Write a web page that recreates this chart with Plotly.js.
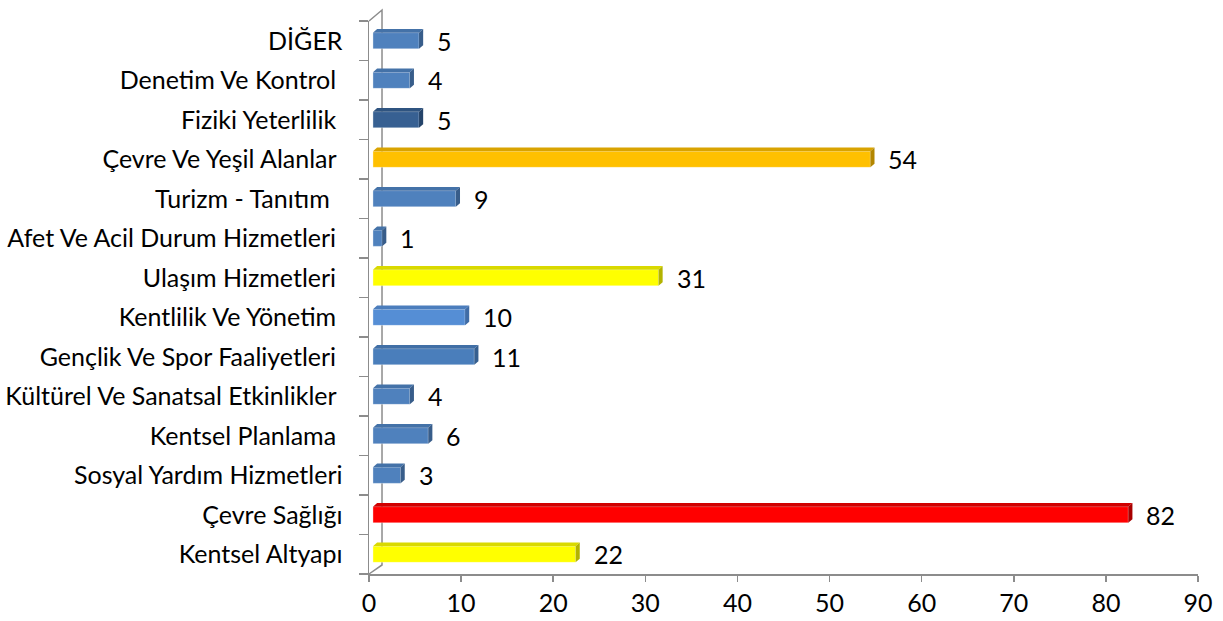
<!DOCTYPE html>
<html>
<head>
<meta charset="utf-8">
<script src="https://cdn.plot.ly/plotly-3.0.1.min.js"></script>
<style>html,body{margin:0;padding:0;background:#fff;}#chart{width:1223px;height:621px;}</style>
</head>
<body>
<div id="chart"></div>
<script>
// Data (bottom to top)
const categories = [
  "Kentsel Altyapı",
  "Çevre Sağlığı",
  "Sosyal Yardım Hizmetleri",
  "Kentsel Planlama ",
  "Kültürel Ve Sanatsal Etkinlikler ",
  "Gençlik Ve Spor Faaliyetleri ",
  "Kentlilik Ve Yönetim ",
  "Ulaşım Hizmetleri ",
  "Afet Ve Acil Durum Hizmetleri ",
  "Turizm - Tanıtım  ",
  "Çevre Ve Yeşil Alanlar ",
  "Fiziki Yeterlilik ",
  "Denetim Ve Kontrol ",
  "DİĞER"
];
const values = [22, 82, 3, 6, 4, 11, 10, 31, 1, 9, 54, 5, 4, 5];
const xTickValues = [0, 10, 20, 30, 40, 50, 60, 70, 80, 90];

// Styles
const frontColors = ["#FFFF00","#FF0000","#4F81BD","#4F81BD","#4F81BD","#4A7EBB","#558ED5","#FFFF00","#4F81BD","#4F81BD","#FFC000","#376092","#4F81BD","#4F81BD"];
const topColors   = ["#D9D900","#D00000","#4472A8","#4472A8","#4472A8","#416FA6","#4B7DBC","#D9D900","#4472A8","#4472A8","#D9A300","#2F5480","#4472A8","#4472A8"];
const sideColors  = ["#B3B300","#A80000","#385D8A","#385D8A","#385D8A","#365F8F","#3F6CA6","#B3B300","#385D8A","#385D8A","#B38600","#25446A","#385D8A","#385D8A"];

const FONT = "Lato, 'Open Sans', sans-serif";
const FS = 25;
const BASE = 0.43;   // gap between axis and bar front face (data units)
const HALF = 0.205;  // half bar thickness (category units)
const DX = 0.45, DY = 0.09; // 3D depth offsets

const idx = categories.map((_, i) => i);
const ticktext = categories.map(c => c.replace(/ /g, "\u00a0"));

const trace = {
  type: "bar",
  orientation: "h",
  x: values,
  y: idx,
  base: BASE,
  width: HALF * 2,
  marker: {color: frontColors, line: {color: "rgba(255,255,255,0.35)", width: 1}},
  hoverinfo: "skip",
  showlegend: false
};

const shapes = [];
// back wall line of the 3D frame
shapes.push({
  type: "path", xref: "paper", yref: "paper", layer: "below",
  path: "M0,1 L0.0157,1.0199 L0.0157,0.0163 L0,0",
  line: {color: "#8C8C8C", width: 1.5}
});
values.forEach((v, i) => {
  const x0 = BASE, x1 = BASE + v, y0 = i - HALF, y1 = i + HALF;
  shapes.push({
    type: "path", xref: "x", yref: "y", layer: "above",
    path: `M${x0},${y1} L${x0 + DX},${y1 + DY} L${x1 + DX},${y1 + DY} L${x1},${y1} Z`,
    fillcolor: topColors[i], line: {width: 0}
  });
  shapes.push({
    type: "path", xref: "x", yref: "y", layer: "above",
    path: `M${x1},${y0} L${x1 + DX},${y0 + DY} L${x1 + DX},${y1 + DY} L${x1},${y1} Z`,
    fillcolor: sideColors[i], line: {width: 0}
  });
});

const annotations = values.map((v, i) => ({
  x: BASE + v, y: i, xref: "x", yref: "y",
  text: String(v), showarrow: false, xanchor: "left", yanchor: "middle",
  xshift: 16, yshift: 0,
  font: {family: FONT, size: FS, color: "#000"}
}));

const layout = {
  width: 1223, height: 621,
  margin: {l: 369, r: 25, t: 21, b: 47},
  paper_bgcolor: "#fff", plot_bgcolor: "rgba(0,0,0,0)",
  font: {family: FONT, size: FS, color: "#000"},
  bargap: 0,
  xaxis: {
    range: [0, 90], tickvals: xTickValues, ticktext: xTickValues.map(String),
    showgrid: false, zeroline: false,
    showline: true, linecolor: "#8C8C8C", linewidth: 1.5,
    ticks: "outside", ticklen: 6, tickcolor: "#8C8C8C", tickwidth: 1.5,
    tickfont: {family: FONT, size: FS, color: "#000"}, fixedrange: true
  },
  yaxis: {
    type: "linear", range: [-0.5, 13.5],
    tickvals: idx, ticktext: ticktext,
    showgrid: false, zeroline: false,
    showline: true, linecolor: "#8C8C8C", linewidth: 1.5,
    ticks: "",
    tickfont: {family: FONT, size: FS, color: "#000"}, fixedrange: true,
    ticklabelstandoff: 20
  },
  shapes: shapes,
  annotations: annotations
};

// category boundary ticks on the y axis
layout.yaxis.minor = {tickvals: idx.concat([idx.length]).map(i => i - 0.5), ticks: "outside", ticklen: 9, tickcolor: "#8C8C8C", tickwidth: 1.5, showgrid: false};

Plotly.newPlot("chart", [trace], layout, {displayModeBar: false, staticPlot: true});
</script>
</body>
</html>
